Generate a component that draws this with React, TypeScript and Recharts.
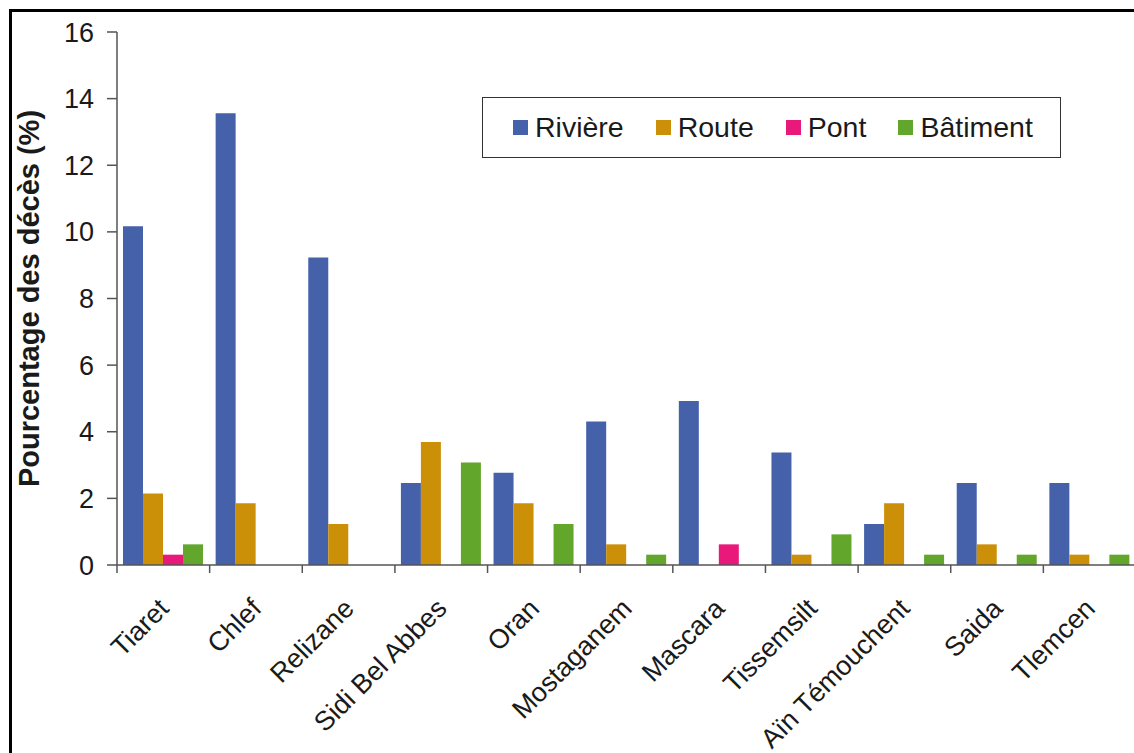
import { BarChart, Bar, XAxis, YAxis, Legend } from "recharts"

const categories = [
  "Tiaret",
  "Chlef",
  "Relizane",
  "Sidi Bel Abbes",
  "Oran",
  "Mostaganem",
  "Mascara",
  "Tissemsilt",
  "Aïn Témouchent",
  "Saida",
  "Tlemcen",
]
const riviere = [10.17, 13.56, 9.23, 2.46, 2.77, 4.31, 4.92, 3.38, 1.23, 2.46, 2.46]
const route = [2.15, 1.85, 1.23, 3.69, 1.85, 0.62, 0, 0.31, 1.85, 0.62, 0.31]
const pont = [0.31, 0, 0, 0, 0, 0, 0.62, 0, 0, 0, 0]
const batiment = [0.62, 0, 0, 3.08, 1.23, 0.31, 0, 0.92, 0.31, 0.31, 0.31]

const seriesKeys = ["riviere", "route", "pont", "batiment"]
const seriesNames = ["Rivière", "Route", "Pont", "Bâtiment"]
const seriesColors = ["#4461aa", "#cc8f08", "#e8197b", "#62a72c"]
const yTicks = [0, 2, 4, 6, 8, 10, 12, 14, 16]

const data = categories.map((name, i) => ({
  name,
  riviere: riviere[i],
  route: route[i],
  pont: pont[i],
  batiment: batiment[i],
}))

const FONT = "'Liberation Sans', Arial, sans-serif"
const AXIS = "#555"
const TEXT = "#1a1a1a"
const CHART_W = 1140
const MARGIN = { top: 32, right: 4, left: 0, bottom: 0 }
const Y_W = 117

function CategoryTick(props: any) {
  const { x, y, payload, index } = props
  const count = props.visibleTicksCount || categories.length
  const band = props.width ? props.width / count : (CHART_W - Y_W - MARGIN.right) / categories.length
  const axisY = y - 8
  const left = x - band / 2
  const tx = x + 7
  const ty = axisY + 45
  return (
    <g>
      <line x1={left} y1={axisY} x2={left} y2={axisY + 8} stroke={AXIS} strokeWidth={1.5} />
      {index === count - 1 && (
        <line x1={left + band} y1={axisY} x2={left + band} y2={axisY + 8} stroke={AXIS} strokeWidth={1.5} />
      )}
      <text
        x={tx}
        y={ty}
        transform={`rotate(-45, ${tx}, ${ty})`}
        textAnchor="end"
        fontSize={27}
        fontFamily={FONT}
        fill={TEXT}
      >
        {payload.value}
      </text>
    </g>
  )
}

function YTitle({ viewBox }: any) {
  const cx = viewBox.x + 39
  const cy = viewBox.y + viewBox.height / 2
  return (
    <text
      x={cx}
      y={cy}
      transform={`rotate(-90, ${cx}, ${cy})`}
      textAnchor="middle"
      fontSize={29}
      fontWeight="bold"
      fontFamily={FONT}
      fill={TEXT}
    >
      Pourcentage des décès (%)
    </text>
  )
}

function LegendBox() {
  return (
    <div
      style={{
        boxSizing: "border-box",
        width: 579,
        height: 61,
        border: "1.5px solid #333",
        background: "#fff",
        display: "flex",
        alignItems: "center",
        paddingLeft: 30,
        fontFamily: FONT,
        fontSize: 28.5,
        color: TEXT,
      }}
    >
      {seriesNames.map((n, i) => (
        <div key={n} style={{ display: "flex", alignItems: "center", marginRight: 32 }}>
          <span style={{ width: 15, height: 15, background: seriesColors[i], marginRight: 7 }} />
          <span>{n}</span>
        </div>
      ))}
    </div>
  )
}

export default function App() {
  return (
    <div
      style={{
        position: "absolute",
        left: 0,
        top: 0,
        width: 1134,
        height: 753,
        overflow: "hidden",
        background: "#fff",
      }}
    >
      <BarChart
        width={CHART_W}
        height={753}
        data={data}
        margin={MARGIN}
        barCategoryGap={6}
        barGap={0}
      >
        <XAxis
          dataKey="name"
          interval={0}
          height={188}
          tickSize={8}
          tickMargin={0}
          tickLine={false}
          axisLine={{ stroke: AXIS, strokeWidth: 1.5 }}
          tick={<CategoryTick />}
        />
        <YAxis
          width={Y_W}
          domain={[0, 16]}
          ticks={yTicks}
          interval={0}
          tickSize={10}
          tickMargin={13}
          axisLine={{ stroke: AXIS, strokeWidth: 1.5 }}
          tickLine={{ stroke: AXIS, strokeWidth: 1.5 }}
          tick={{ fontSize: 27, fill: TEXT, fontFamily: FONT }}
          label={{ content: <YTitle /> }}
        />
        <Legend
          layout="horizontal"
          verticalAlign="middle"
          align="center"
          wrapperStyle={{ left: 482, top: 97, width: 579, height: 61 }}
          content={<LegendBox />}
        />
        {seriesKeys.map((k, i) => (
          <Bar key={k} dataKey={k} name={seriesNames[i]} fill={seriesColors[i]} isAnimationActive={false} />
        ))}
      </BarChart>
      <div
        style={{
          position: "absolute",
          left: 9,
          top: 9,
          width: 1200,
          height: 800,
          border: "3px solid #000",
          boxSizing: "border-box",
          pointerEvents: "none",
        }}
      />
    </div>
  )
}
